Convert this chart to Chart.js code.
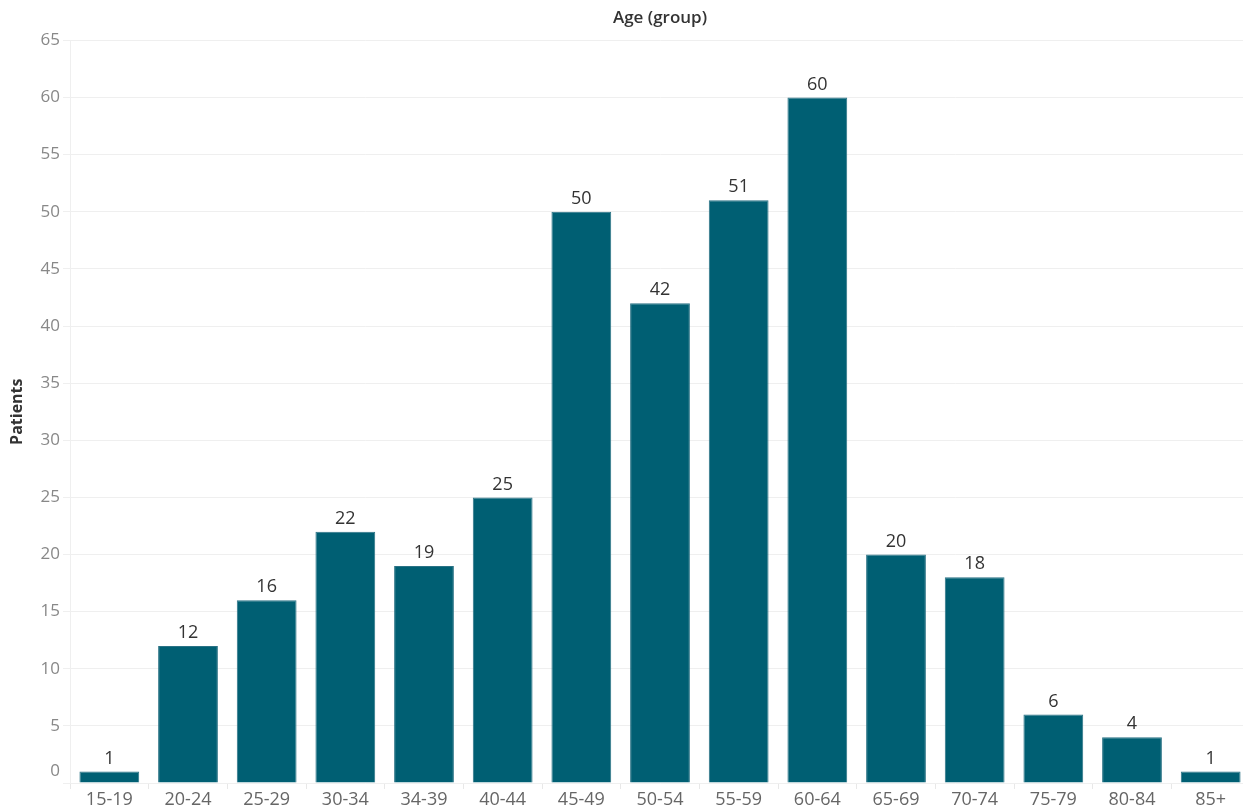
<!DOCTYPE html>
<html>
<head>
<meta charset="utf-8">
<script src="https://cdn.jsdelivr.net/npm/chart.js@4/dist/chart.umd.min.js"></script>
<style>
    html, body { margin: 0; padding: 0; background: #fff; overflow: hidden; }
    #wrap { width: 1250px; height: 811px; }
</style>
</head>
<body>
<div id="wrap"><canvas id="myChart" width="1250" height="811"></canvas></div>
<script>
// data
var ageGroups = ["15-19", "20-24", "25-29", "30-34", "34-39", "40-44", "45-49", "50-54",
    "55-59", "60-64", "65-69", "70-74", "75-79", "80-84", "85+"];
var patients = [1, 12, 16, 22, 19, 25, 50, 42, 51, 60, 20, 18, 6, 4, 1];
var yMax = 65;
var yStep = 5;

var barColor = "#005f73";
var fontName = "'Open Sans', 'Noto Sans', sans-serif";

// value labels above each bar
var barLabels = {
    id: "barLabels",
    afterDatasetsDraw: function (chart) {
        var ctx = chart.ctx;
        var meta = chart.getDatasetMeta(0);
        ctx.save();
        ctx.font = "18px " + fontName;
        ctx.fillStyle = "#333";
        ctx.textAlign = "center";
        ctx.textBaseline = "bottom";
        meta.data.forEach(function (bar, i) {
            ctx.fillText(patients[i], bar.x, bar.y - 4);
        });
        ctx.restore();
    }
};

// the "0" tick label sits a bit above its gridline
var zeroLabel = {
    id: "zeroLabel",
    afterDraw: function (chart) {
        var ctx = chart.ctx;
        var y = chart.scales.y.getPixelForValue(0);
        ctx.save();
        ctx.font = "17px " + fontName;
        ctx.fillStyle = "#888";
        ctx.textAlign = "right";
        ctx.textBaseline = "middle";
        ctx.fillText("0", 60, y - 12);
        ctx.restore();
    }
};

var canvas = document.getElementById("myChart");
var mychart = new Chart(canvas, {
    type: "bar",
    data: {
        labels: ageGroups,
        datasets: [{
            data: patients,
            backgroundColor: barColor,
            borderColor: "#2a7285",
            borderWidth: 1,
            barPercentage: 0.76,
            categoryPercentage: 1.0
        }]
    },
    options: {
        responsive: false,
        animation: false,
        layout: { padding: 0 },
        plugins: {
            legend: { display: false },
            tooltip: { enabled: false },
            title: {
                display: true,
                text: "Age (group)",
                fullSize: false,
                color: "#333",
                font: { family: fontName, size: 17, weight: "600" },
                padding: { top: 8, bottom: 12 }
            }
        },
        scales: {
            x: {
                afterFit: function (scale) { scale.height = 28; },
                grid: {
                    offset: true,
                    drawOnChartArea: false,
                    tickLength: 6,
                    color: "#e8e8e8"
                },
                border: { display: false },
                ticks: {
                    padding: 0,
                    color: "#666",
                    maxRotation: 0,
                    autoSkip: false,
                    font: { family: fontName, size: 18 }
                }
            },
            y: {
                min: 0,
                max: yMax,
                afterFit: function (scale) { scale.width = 70; },
                title: {
                    display: true,
                    text: "Patients",
                    color: "#333",
                    font: { family: fontName, size: 16, weight: "bold" },
                    padding: { top: 8, bottom: 0 }
                },
                grid: {
                    color: "#efefef",
                    tickLength: 7
                },
                border: { display: true, color: "#efefef" },
                ticks: {
                    stepSize: yStep,
                    padding: 3,
                    color: function (c) {
                        return c.tick && c.tick.value === 0 ? "rgba(0,0,0,0)" : "#888";
                    },
                    font: { family: fontName, size: 17 }
                }
            }
        }
    },
    plugins: [barLabels, zeroLabel]
});
</script>
</body>
</html>
